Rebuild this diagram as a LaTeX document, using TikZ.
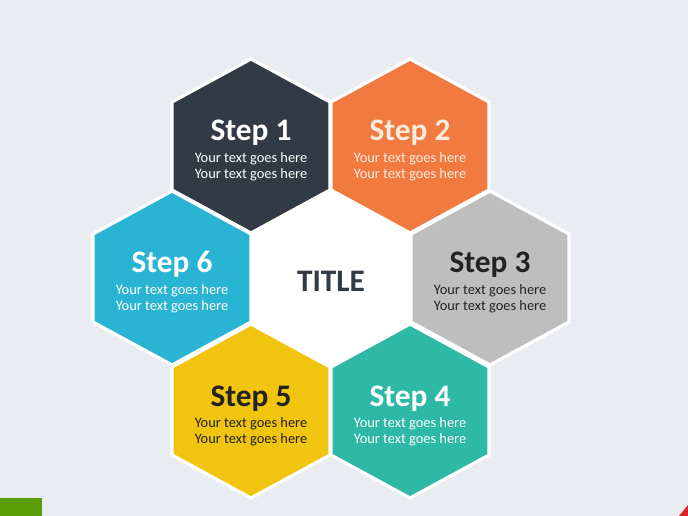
\documentclass[tikz,border=0pt]{standalone}
\usepackage{fontspec}
\setmainfont{Carlito}
\usepackage{xcolor}
\usetikzlibrary{positioning}

\definecolor{pagebg}{HTML}{E9ECF1}
\definecolor{slate}{HTML}{323A46}
\definecolor{orangestep}{HTML}{F07A40}
\definecolor{graystep}{HTML}{BEBEBE}
\definecolor{tealstep}{HTML}{2DB9A5}
\definecolor{yellowstep}{HTML}{F1C40F}
\definecolor{cyanstep}{HTML}{29B4D4}
\definecolor{darkink}{HTML}{222222}
\definecolor{creamink}{HTML}{FDEBDD}
\definecolor{cornergreen}{HTML}{5A9E0A}
\definecolor{cornerred}{HTML}{D9262A}

\tikzset{
    hexcell/.style = {draw=white, line width=2.4pt, line join=miter},
    steptitle/.style = {font=\bfseries\fontsize{23.5}{25}\selectfont, inner sep=0pt, anchor=base},
    steptext/.style = {font=\fontsize{10.8}{12}\selectfont, align=center, inner sep=0pt},
}

\begin{document}
\begin{tikzpicture}[x=0.75pt, y=-0.75pt]
        % page
        \fill[pagebg] (0, 0) rectangle (688, 516);
        \useasboundingbox (0, 0) rectangle (688, 516);
        \fill[cornergreen] (0, 498) rectangle (42, 516);
        \fill[cornerred] (679, 516) -- (688, 505) -- (688, 516) -- cycle;

        % the six steps
        \foreach \nm/\cx/\cy/\clr/\ink/\bodyink in {
                1/251/146/slate/white/white,
                2/410/146/orangestep/creamink/creamink,
                3/490/278/graystep/darkink/darkink,
                4/410/411/tealstep/white/white,
                5/251/411/yellowstep/darkink/darkink,
                6/172/278/cyanstep/white/white} {
            \draw[hexcell, fill=\clr] (\cx, \cy) ++(0, -87) -- ++(79, 43) -- ++(0, 88)
                -- ++(-79, 43) -- ++(-79, -43) -- ++(0, -88) -- cycle;
            \node[steptitle, text=\ink] (head\nm) at (\cx, \cy - 5) {Step \nm};
            \node[steptext, text=\bodyink] (body\nm) at (\cx, \cy + 21)
                {Your text goes here\\Your text goes here};
        }

        % centre
        \draw[hexcell, fill=white] (331, 278) ++(0, -87) -- ++(79, 43) -- ++(0, 88)
            -- ++(-79, 43) -- ++(-79, -43) -- ++(0, -88) -- cycle;
        \node[font=\bfseries\fontsize{23.5}{25}\selectfont, text=slate, inner sep=0pt]
            (title) at (331, 281) {TITLE};
\end{tikzpicture}
\end{document}
